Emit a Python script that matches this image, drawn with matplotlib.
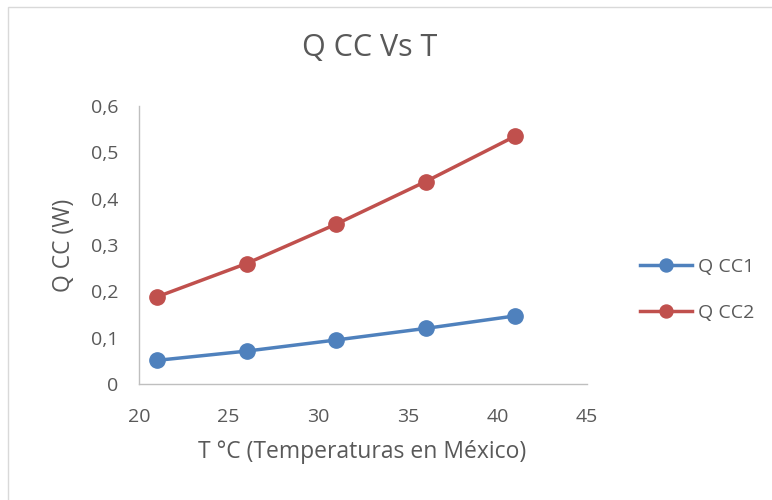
import matplotlib
matplotlib.use("Agg")
import matplotlib.pyplot as plt
from matplotlib.patches import Rectangle
from matplotlib.ticker import FuncFormatter

temps = [21, 26, 31, 36, 41]
qcc1 = [0.051, 0.071, 0.095, 0.120, 0.147]
qcc2 = [0.188, 0.260, 0.345, 0.437, 0.535]
series_names = ["Q CC1", "Q CC2"]
x_ticks = [20, 25, 30, 35, 40, 45]
y_ticks = [0, 0.1, 0.2, 0.3, 0.4, 0.5, 0.6]

plt.rcParams['font.family'] = ['Open Sans', 'DejaVu Sans']
txt = '#595959'

fig = plt.figure(figsize=(7.72, 5.0), dpi=100)
fig.patches.append(Rectangle((8/772, -0.1), 1.2, 1 - 7/500 + 0.1, transform=fig.transFigure,
                             fill=False, edgecolor='#d9d9d9', linewidth=1))
ax = fig.add_axes([139/772, 1 - 384/500, (587 - 139)/772, (384 - 106)/500])

ax.plot(temps, qcc1, color='#4f81bd', lw=2.5, marker='o', ms=11, label=series_names[0])
ax.plot(temps, qcc2, color='#c0504d', lw=2.5, marker='o', ms=11, label=series_names[1])

ax.set_xlim(20, 45)
ax.set_ylim(0, 0.6)
ax.set_xticks(x_ticks)
ax.set_yticks(y_ticks)
ax.yaxis.set_major_formatter(FuncFormatter(lambda v, p: ('%g' % round(v, 2)).replace('.', ',')))
ax.tick_params(length=0, labelsize=14, colors=txt)
ax.tick_params(axis='x', pad=17)
ax.tick_params(axis='y', pad=15)
for s in ['top', 'right']:
    ax.spines[s].set_visible(False)
for s in ['left', 'bottom']:
    ax.spines[s].set_color('#bfbfbf')
    ax.spines[s].set_linewidth(1)

fig.text(362/772, 1 - 452/500, 'T °C (Temperaturas en México)', fontsize=16.5, color=txt,
         ha='center', va='center')
fig.text(64/772, 1 - 245/500, 'Q CC (W)', fontsize=16.5, color=txt, rotation=90,
         ha='center', va='center')
fig.text(370/772, 1 - 48/500, 'Q CC Vs T', fontsize=22, color=txt, ha='center', va='center')

leg = fig.legend(handles=ax.get_lines(), loc='center left', bbox_to_anchor=(640/772, 1 - 290/500),
                 frameon=False, fontsize=14, borderpad=0, borderaxespad=0, markerscale=0.85,
                 labelspacing=1.45, handlelength=2.68, handletextpad=0.3, labelcolor=txt)

fig.savefig('out.png', dpi=100)
